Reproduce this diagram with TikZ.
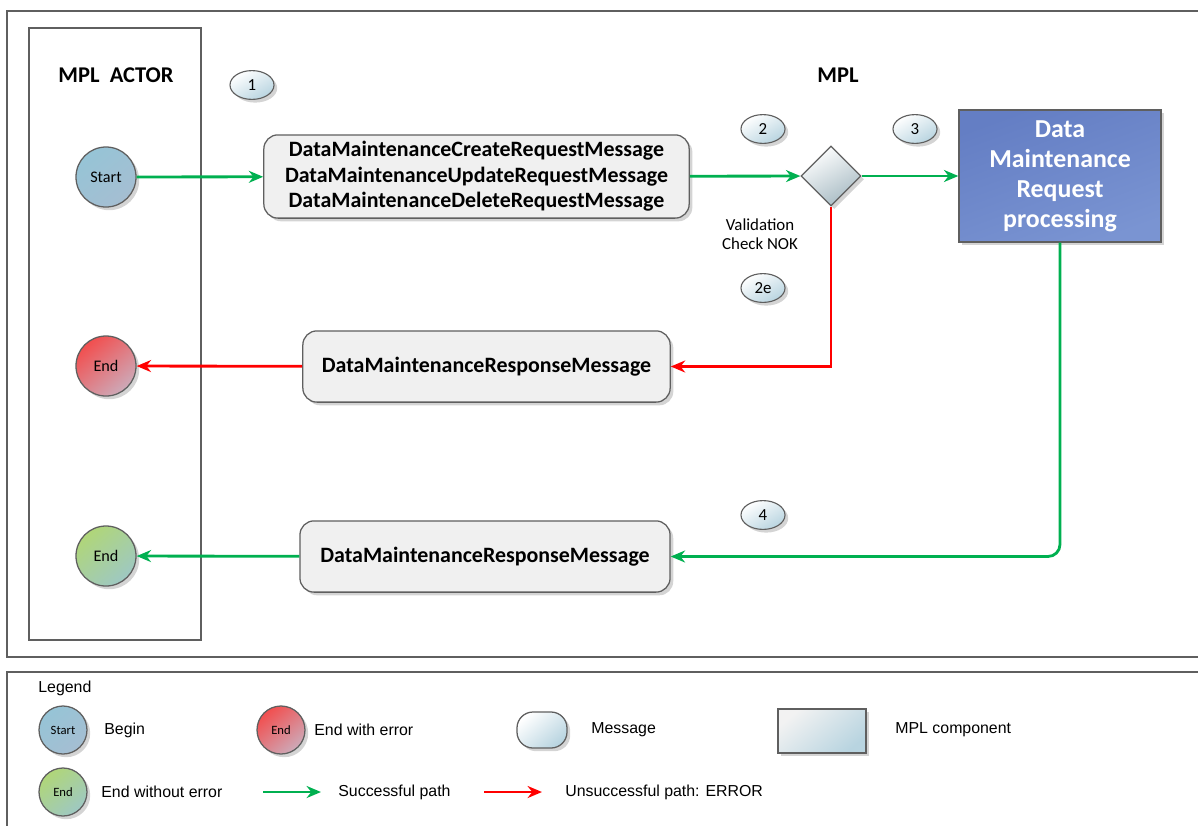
\documentclass[tikz,border=0pt]{standalone}
\usepackage{fontspec}
\setmainfont{Carlito}
\newfontfamily\legendfont{Liberation Sans}
\usetikzlibrary{shapes.geometric, arrows.meta, shadows}

\definecolor{okgreen}{RGB}{0,176,80}
\definecolor{nokred}{RGB}{255,0,0}
\definecolor{framegray}{RGB}{95,95,95}
\definecolor{startblue}{RGB}{150,196,214}
\definecolor{startblue2}{RGB}{165,190,210}
\definecolor{endred}{RGB}{242,78,78}
\definecolor{endred2}{RGB}{205,170,185}
\definecolor{endgreen}{RGB}{176,214,120}
\definecolor{endgreen2}{RGB}{158,200,195}
\definecolor{procblue}{RGB}{100,126,196}
\definecolor{procblue2}{RGB}{122,148,210}
\definecolor{msgfill}{RGB}{240,240,240}
\definecolor{bubbleblue}{RGB}{184,212,224}

\tikzset{
  shadowed/.style={drop shadow={shadow xshift=0.08cm, shadow yshift=-0.08cm, fill=black!17, opacity=1}},
  event/.style={circle, draw=framegray, line width=0.9pt, minimum size=1.5cm, inner sep=0pt, shadowed,
    font=\fontsize{11.5}{13}\selectfont},
  startevent/.style={event, top color=startblue, bottom color=startblue2, shading angle=40},
  errevent/.style={event, top color=endred, bottom color=endred2, shading angle=40},
  okevent/.style={event, top color=endgreen, bottom color=endgreen2, shading angle=40},
  smallevent/.style={minimum size=1.2cm, font=\fontsize{9}{10}\selectfont},
  message/.style={rectangle, rounded corners=0.35cm, draw=framegray, line width=0.9pt, fill=msgfill, shadowed,
    align=center, font=\bfseries\fontsize{15.6}{18.2}\selectfont},
  bubble/.style={ellipse, draw=framegray, line width=0.8pt, minimum width=1.1cm, minimum height=0.72cm, inner sep=0pt,
    top color=white, bottom color=bubbleblue, shading angle=30, shadowed, font=\fontsize{12}{14}\selectfont},
  check/.style={diamond, draw=framegray, line width=0.9pt, minimum width=1.5cm, minimum height=1.5cm, inner sep=0pt,
    top color=white, bottom color=bubbleblue!70!gray, shading angle=30, shadowed},
  component/.style={rectangle, draw=framegray, line width=0.9pt, shadowed, align=center},
  okpath/.style={draw=okgreen, line width=2pt, -{Stealth[length=0.36cm, width=0.3cm]}},
  nokpath/.style={draw=nokred, line width=2pt, -{Stealth[length=0.36cm, width=0.3cm]}},
  frame/.style={draw=framegray, line width=1.1pt},
  lane/.style={draw=framegray, line width=0.9pt},
  legendtext/.style={anchor=west, inner xsep=1.5pt, font=\legendfont\fontsize{11.3}{13}\selectfont},
  lanetitle/.style={font=\bfseries\fontsize{16}{18}\selectfont}
}

\begin{document}
\begin{tikzpicture}[x=0.025cm, y=-0.025cm]
  \useasboundingbox (0,0) rectangle (1198,825);

  % Frames of the process and of the legend
  \draw[frame] (1210,11) -- (7,11) -- (7,657) -- (1210,657);
  \draw[frame] (1210,672) -- (7,672) -- (7,840);
  \draw[lane] (29,28) rectangle (201,640);

  % Lane titles
  \node[lanetitle] (actor) at (116,75) {MPL\ \ ACTOR};
  \node[lanetitle] (mpl) at (838,75) {MPL};

  % Events
  \node[startevent] (start) at (106,177) {Start};
  \node[errevent] (enderr) at (106,366) {End};
  \node[okevent] (endok) at (106,556) {End};

  % Messages
  \node[message, minimum width=10.63cm, minimum height=2.08cm] (req) at (476.5,176.5)
    {DataMaintenanceCreateRequestMessage\\DataMaintenanceUpdateRequestMessage\\DataMaintenanceDeleteRequestMessage};
  \node[message, minimum width=9.18cm, minimum height=1.78cm] (errmsg) at (486.5,366.5) {DataMaintenanceResponseMessage};
  \node[message, minimum width=9.25cm, minimum height=1.78cm] (okmsg) at (485,556.5) {DataMaintenanceResponseMessage};

  % Validation and processing
  \node[check] (valid) at (831,176) {};
  \node[component, fill=procblue, top color=procblue, bottom color=procblue2, shading angle=20,
    minimum width=5.05cm, minimum height=3.3cm, text=white, font=\bfseries\fontsize{18.4}{21.3}\selectfont]
    (proc) at (1060,176) {Data\\Maintenance\\Request\\processing};
  \node[align=center, font=\fontsize{12}{13.6}\selectfont] (nok) at (760,234) {Validation\\Check NOK};

  % Step numbers
  \node[bubble] (step1) at (252,85) {1};
  \node[bubble] (step2) at (763,129) {2};
  \node[bubble] (step3) at (915,129) {3};
  \node[bubble] (step2e) at (763,288) {2e};
  \node[bubble] (step4) at (763,515) {4};

  % Paths
  \draw[okpath] (start) -- (req);
  \draw[okpath] (req) -- (valid);
  \draw[okpath] (valid) -- (proc);
  \draw[nokpath] (valid.south) |- (errmsg.east);
  \draw[nokpath] (errmsg) -- (enderr);
  \draw[okpath, rounded corners=0.3cm] (proc.south) |- (okmsg.east);
  \draw[okpath] (okmsg) -- (endok);

  % Legend
  \node[legendtext] (legend) at (36,688) {Legend};
  \node[startevent, smallevent] (lgstart) at (63,730) {Start};
  \node[legendtext] (lgbegin) at (102,730) {Begin};
  \node[errevent, smallevent] (lgerr) at (281,730) {End};
  \node[legendtext] (lgerrtext) at (312,730) {End with error};
  \node[message, minimum width=1.25cm, minimum height=0.9cm, rounded corners=0.4cm,
    top color=white, bottom color=bubbleblue, shading angle=40] (lgmsg) at (542,730) {};
  \node[legendtext] (lgmsgtext) at (589,730) {Message};
  \node[component, minimum width=2.2cm, minimum height=1.1cm, top color=white!90!gray, bottom color=bubbleblue,
    shading angle=40] (lgcomp) at (822,731) {};
  \node[legendtext] (lgcomptext) at (893,730) {MPL component};
  \node[okevent, smallevent] (lgend) at (63,792) {End};
  \node[legendtext] (lgendtext) at (99,792) {End without error};
  \coordinate (okfrom) at (263,792);
  \coordinate (okto) at (321,792);
  \draw[okpath] (okfrom) -- (okto);
  \node[legendtext] (oktext) at (336,792) {Successful path};
  \coordinate (nokfrom) at (484,792);
  \coordinate (nokto) at (542,792);
  \draw[nokpath] (nokfrom) -- (nokto);
  \node[legendtext] (noktext) at (563,792) {Unsuccessful path: ERROR};
\end{tikzpicture}
\end{document}
